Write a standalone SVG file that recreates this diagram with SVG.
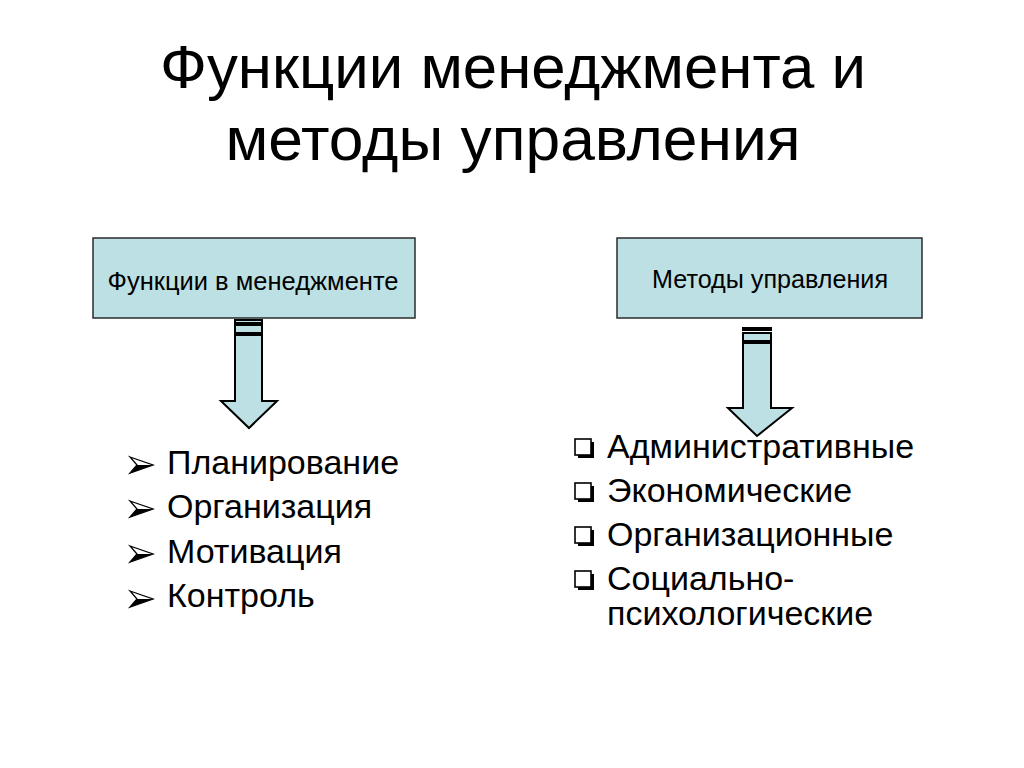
<svg xmlns="http://www.w3.org/2000/svg" width="1024" height="768" viewBox="0 0 1024 768">
<defs>
<style>
.t{font-family:"Liberation Sans",Arial,sans-serif;fill:#000}
.title{font-size:62px;text-anchor:middle}
.bt{font-size:25.5px;text-anchor:middle}
.li{font-size:34px}
.box{fill:#bde0e4;stroke:#2b2b2b;stroke-width:1.5}
.arr{fill:#bde0e4;stroke:#000;stroke-width:2;stroke-linejoin:miter}
</style>
<g id="bulletA">
<polygon points="0,0 23,8 0,16 7,8" fill="#fff" stroke="#000" stroke-width="1.3" stroke-linejoin="miter"/>
<polygon points="7,8 23,8 0,16" fill="#000"/>
</g>
<g id="bulletB">
<rect x="3" y="3" width="16" height="16" fill="#000"/>
<rect x="0" y="0" width="16" height="16" fill="#fff" stroke="#000" stroke-width="1.6"/>
</g>
</defs>
<rect width="1024" height="768" fill="#fff"/>
<g id="title">
<text class="t title" x="513" y="88" textLength="706" lengthAdjust="spacingAndGlyphs">Функции менеджмента и</text>
<text class="t title" x="513" y="160" textLength="575" lengthAdjust="spacingAndGlyphs">методы управления</text>
</g>
<g id="node-functions">
<rect class="box" x="93" y="238" width="322" height="80"/>
<text class="t bt" x="253" y="290" textLength="291" lengthAdjust="spacingAndGlyphs">Функции в менеджменте</text>
</g>
<g id="node-methods">
<rect class="box" x="617" y="238" width="305" height="80"/>
<text class="t bt" x="770" y="288" textLength="236" lengthAdjust="spacingAndGlyphs">Методы управления</text>
</g>
<g id="connectors">
<rect class="arr" x="235" y="320" width="27" height="3" stroke-width="1.5"/>
<rect class="arr" x="235" y="325" width="27" height="8" stroke-width="1.5"/>
<polygon class="arr" points="235,335 262,335 262,401 277,401 249,428 221,401 235,401"/>
<rect class="arr" x="743" y="328" width="28" height="2" stroke-width="1.5"/>
<rect class="arr" x="743" y="333" width="28" height="8" stroke-width="1.5"/>
<polygon class="arr" points="743,343 771,343 771,408 792,408 757,436 728,408 743,408"/>
</g>
<g id="list-functions">
<use href="#bulletA" x="130" y="457"/>
<text class="t li" x="167" y="474">Планирование</text>
<use href="#bulletA" x="130" y="501"/>
<text class="t li" x="167" y="518">Организация</text>
<use href="#bulletA" x="130" y="546"/>
<text class="t li" x="167" y="563">Мотивация</text>
<use href="#bulletA" x="130" y="591"/>
<text class="t li" x="167" y="607">Контроль</text>
</g>
<g id="list-methods">
<use href="#bulletB" x="575" y="439"/>
<text class="t li" x="607" y="458">Административные</text>
<use href="#bulletB" x="575" y="483"/>
<text class="t li" x="607" y="502">Экономические</text>
<use href="#bulletB" x="575" y="527"/>
<text class="t li" x="607" y="546">Организационные</text>
<use href="#bulletB" x="575" y="571"/>
<text class="t li" x="607" y="590">Социально-</text>
<text class="t li" x="607" y="625">психологические</text>
</g>
</svg>
